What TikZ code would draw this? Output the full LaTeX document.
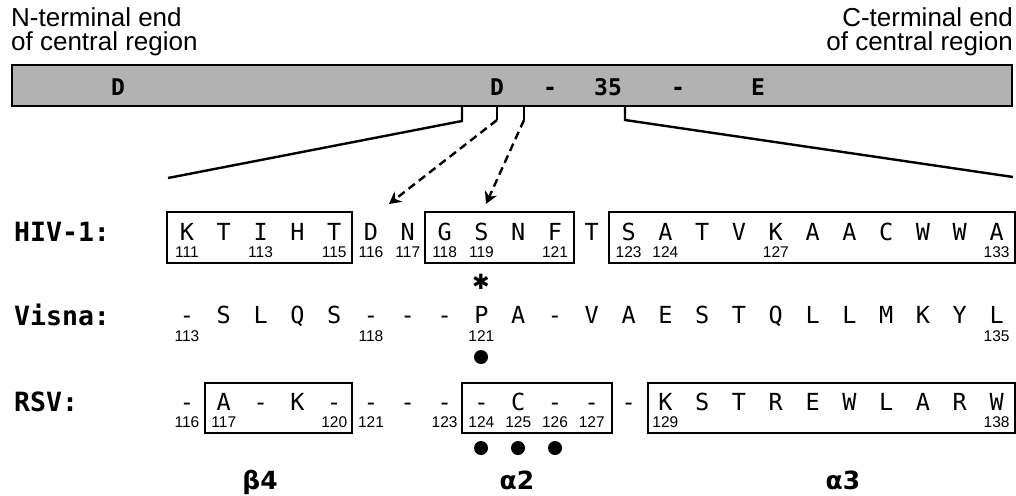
\documentclass[tikz,border=0pt]{standalone}
\usepackage{fontspec}
\setmainfont{Liberation Sans}
\newfontfamily\seqfont{DejaVu Sans Mono}
\newfontfamily\greekfont{DejaVu Sans}
\usetikzlibrary{arrows.meta}
\definecolor{bargray}{RGB}{178,178,178}
\begin{document}
\begin{tikzpicture}[x=1pt,y=-1pt,
  seq/.style={font=\seqfont\fontsize{23.5}{23.5}\selectfont, anchor=base, inner sep=0pt},
  num/.style={font=\fontsize{15.5}{15.5}\selectfont, anchor=base, inner sep=0pt},
  rowlbl/.style={font=\seqfont\bfseries\fontsize{26.5}{26.5}\selectfont, anchor=base west, inner sep=0pt},
  barlbl/.style={font=\seqfont\bfseries\fontsize{23}{23}\selectfont, anchor=base, inner sep=0pt},
  toplbl/.style={font=\fontsize{26}{26}\selectfont, inner sep=0pt},
  greek/.style={font=\greekfont\bfseries\fontsize{25}{25}\selectfont, anchor=base, inner sep=0pt},
  boxline/.style={line width=1.3pt},
  conn/.style={line width=2.4pt},
  dashconn/.style={line width=2.4pt, dash pattern=on 8pt off 5pt, -{Stealth[length=12pt,width=13pt,inset=4pt]}},
  dot/.style={fill=black, circle, inner sep=0pt, minimum size=14pt}]
\useasboundingbox (0,0) rectangle (1016,495);

% top labels
\node[toplbl, anchor=base west] (nt1) at (11,27) {N-terminal end};
\node[toplbl, anchor=base west] (nt2) at (11,51) {of central region};
\node[toplbl, anchor=base east] (ct1) at (1013,27) {C-terminal end};
\node[toplbl, anchor=base east] (ct2) at (1013,51) {of central region};

% bar
\draw[line width=2.8pt, fill=bargray] (12,65) rectangle (1012,106);
\node[barlbl] (bD1) at (118,95) {D};
\node[barlbl] (bD2) at (497,95) {D};
\node[barlbl] (bm1) at (550,95) {-};
\node[barlbl] (b35) at (608,95) {35};
\node[barlbl] (bm2) at (678,95) {-};
\node[barlbl] (bE) at (758,95) {E};

% connector coordinates
\coordinate (s1) at (462,106); \coordinate (k1) at (462,121); \coordinate (e1) at (168,178);
\coordinate (s4) at (625,106); \coordinate (k4) at (625,120); \coordinate (e4) at (1013,177);
\coordinate (s2) at (497,106); \coordinate (k2) at (497,120); \coordinate (e2) at (389,204);
\coordinate (s3) at (524,106); \coordinate (k3) at (524,120); \coordinate (e3) at (486,204);
\draw[conn] (s1) -- (k1) -- (e1);
\draw[conn] (s4) -- (k4) -- (e4);
\draw[conn] (s2) -- (k2);
\draw[dashconn] (k2) -- (e2);
\draw[conn] (s3) -- (k3);
\draw[dashconn] (k3) -- (e3);

% row labels
\node[rowlbl] (lh) at (14,241) {HIV-1:};
\node[rowlbl] (lv) at (14,325) {Visna:};
\node[rowlbl] (lr) at (14,411) {RSV:};

% HIV-1
\foreach \l [count=\i from 0] in {K,T,I,H,T,D,N,G,S,N,F,T,S,A,T,V,K,A,A,C,W,W,A}
  \node[seq] (h\i) at ({187+36.8*\i},240) {\l};
\foreach \c/\n in {0/111,2/113,4/115,5/116,6/117,7/118,8/119,10/121,12/123,13/124,16/127,22/133}
  \node[num] (hn\c) at ({187+36.8*\c},257) {\n};
\draw[boxline] (167,212) rectangle (352,263);
\draw[boxline] (425,212) rectangle (574,263);
\draw[boxline] (609,212) rectangle (1015,263);

% asterisk
\node[font=\greekfont\bfseries\fontsize{21}{21}\selectfont, inner sep=0pt] (ast) at (481,282) {✱};

% Visna
\foreach \l [count=\i from 0] in {-,S,L,Q,S,-,-,-,P,A,-,V,A,E,S,T,Q,L,L,M,K,Y,L}
  \node[seq] (v\i) at ({187+36.8*\i},323) {\l};
\foreach \c/\n in {0/113,5/118,8/121,22/135}
  \node[num] (vn\c) at ({187+36.8*\c},341) {\n};
\node[dot] (vd) at (481,357) {};

% RSV
\foreach \l [count=\i from 0] in {-,A,-,K,-,-,-,-,-,C,-,-,-,K,S,T,R,E,W,L,A,R,W}
  \node[seq] (r\i) at ({187+36.8*\i},410) {\l};
\foreach \c/\n in {0/116,1/117,4/120,5/121,7/123,8/124,9/125,10/126,11/127,13/129,22/138}
  \node[num] (rn\c) at ({187+36.8*\c},427) {\n};
\draw[boxline] (205,383) rectangle (352,433);
\draw[boxline] (462,383) rectangle (612,433);
\draw[boxline] (648,383) rectangle (1015,433);
\node[dot] (rd1) at (481,448) {};
\node[dot] (rd2) at (518,448) {};
\node[dot] (rd3) at (555,448) {};

% secondary structure labels
\node[greek] (g1) at (260,489) {β4};
\node[greek] (g2) at (517,489) {α2};
\node[greek] (g3) at (843,489) {α3};
\end{tikzpicture}
\end{document}
